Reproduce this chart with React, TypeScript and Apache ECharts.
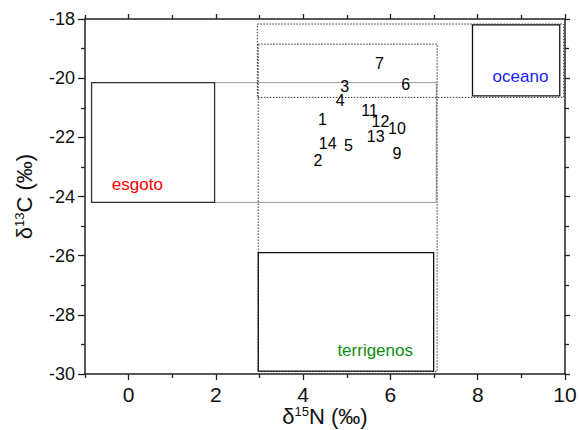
import React, { useEffect, useRef } from "react";
import * as echarts from "echarts";

const FONT = "'Liberation Sans', Arial, Helvetica, sans-serif";

// Sample labels (δ15N, δ13C)
const sampleNames = ["1", "2", "3", "4", "5", "6", "7", "9", "10", "11", "12", "13", "14"];
const sampleN = [4.44, 4.34, 4.95, 4.85, 5.04, 6.35, 5.75, 6.15, 6.15, 5.52, 5.77, 5.66, 4.56];
const sampleC = [-21.39, -22.79, -20.29, -20.77, -22.29, -20.2, -19.5, -22.56, -21.7, -21.08, -21.47, -21.98, -22.2];

// Source boxes: [x1, y1, x2, y2]
const boxNames = ["band", "esgoto", "outerDotted", "innerDotted", "terrigenos", "oceano"];
const boxX1 = [-0.85, -0.85, 2.95, 2.97, 2.97, 7.88];
const boxY1 = [-20.15, -20.15, -18.17, -18.85, -25.9, -18.2];
const boxX2 = [7.05, 1.97, 9.97, 7.07, 6.99, 9.88];
const boxY2 = [-24.2, -24.2, -20.65, -29.92, -29.9, -20.6];

// Region labels
const regionNames = ["esgoto", "terrigenos", "oceano"];
const regionX = [0.2, 5.65, 8.98];
const regionY = [-23.6, -29.2, -19.95];
const regionColors = ["#ff0000", "#108a10", "#1a1aff"];

// Axis ticks
const xMajor = [0, 2, 4, 6, 8, 10];
const xMinor = [-1, 1, 3, 5, 7, 9];

const boxStyles: Record<string, any> = {
  band: { stroke: "#9a9a9a", lineWidth: 1 },
  esgoto: { stroke: "#333", lineWidth: 1.3 },
  outerDotted: { stroke: "#333", lineWidth: 1, lineDash: [1.5, 1.5] },
  innerDotted: { stroke: "#333", lineWidth: 1, lineDash: [1.5, 1.5] },
  terrigenos: { stroke: "#111", lineWidth: 1.3 },
  oceano: { stroke: "#111", lineWidth: 1.3 },
};

export default function App() {
  const ref = useRef<HTMLDivElement>(null);
  useEffect(() => {
    if (!ref.current) return;
    const chart = echarts.init(ref.current, undefined, { renderer: "svg" });
    const axisLine = { show: true, onZero: false, lineStyle: { color: "#222", width: 1.5 } };
    const noLine = { show: false, onZero: false };
    const tickStyle = { color: "#222", width: 1.3 };
    const xBase = { type: "value", min: -1, max: 10, splitLine: { show: false } };
    const yBase = { type: "value", min: -30, max: -18, interval: 2, splitLine: { show: false } };
    const richTitle = {
      n: { fontSize: 22, fontFamily: FONT, color: "#111" },
      s: { fontSize: 13, fontFamily: FONT, color: "#111", verticalAlign: "top" },
    };
    const noBorder = { textBorderWidth: 0, textBorderColor: "transparent", textShadowBlur: 0 };
    chart.setOption({
      animation: false,
      grid: { left: 85, top: 19, right: 14, bottom: 56, outerBoundsMode: "none", containLabel: false },
      xAxis: [
        {
          ...xBase,
          position: "bottom",
          axisLine,
          axisTick: { show: true, inside: false, length: 6, customValues: xMajor, lineStyle: tickStyle },
          axisLabel: { show: true, customValues: xMajor, fontSize: 21, fontFamily: FONT, color: "#111", margin: 10 },
          name: "{n|δ}{s|15}{n|N (‰)}",
          nameLocation: "middle",
          nameGap: 31,
          nameMoveOverlap: false,
          nameTextStyle: { fontSize: 22, fontFamily: FONT, rich: richTitle },
        },
        {
          ...xBase,
          position: "bottom",
          axisLine: noLine,
          axisTick: { show: true, inside: false, length: 4, customValues: xMinor, lineStyle: tickStyle },
          axisLabel: { show: false },
        },
        {
          ...xBase,
          position: "top",
          axisLine,
          axisTick: { show: true, inside: false, length: 5, customValues: xMajor, lineStyle: tickStyle },
          axisLabel: { show: false },
        },
        {
          ...xBase,
          position: "top",
          axisLine: noLine,
          axisTick: { show: true, inside: false, length: 4, customValues: xMinor, lineStyle: tickStyle },
          axisLabel: { show: false },
        },
      ],
      yAxis: [
        {
          ...yBase,
          position: "left",
          axisLine,
          axisTick: { show: true, inside: false, length: 7, lineStyle: tickStyle },
          minorTick: { show: true, splitNumber: 2, length: 4, lineStyle: tickStyle },
          axisLabel: { fontSize: 18, fontFamily: FONT, color: "#111", margin: 10 },
          name: "{n|δ}{s|13}{n|C (‰)}",
          nameLocation: "middle",
          nameGap: 50,
          nameTextStyle: { fontSize: 22, fontFamily: FONT, rich: richTitle },
        },
        {
          ...yBase,
          position: "right",
          axisLine,
          axisTick: { show: true, inside: false, length: 5, lineStyle: tickStyle },
          minorTick: { show: true, splitNumber: 2, length: 4, lineStyle: tickStyle },
          axisLabel: { show: false },
        },
      ],
      series: [
        {
          type: "custom",
          xAxisIndex: 0,
          yAxisIndex: 0,
          silent: true,
          clip: false,
          encode: { x: [0, 2], y: [1, 3] },
          data: boxNames.map((n, i) => [boxX1[i], boxY1[i], boxX2[i], boxY2[i], i]),
          renderItem: (params: any, api: any) => {
            const i = api.value(4);
            const p1 = api.coord([api.value(0), api.value(1)]);
            const p2 = api.coord([api.value(2), api.value(3)]);
            const st = boxStyles[boxNames[i]];
            return {
              type: "rect",
              shape: {
                x: Math.min(p1[0], p2[0]),
                y: Math.min(p1[1], p2[1]),
                width: Math.abs(p2[0] - p1[0]),
                height: Math.abs(p2[1] - p1[1]),
              },
              style: { fill: "none", ...st },
            };
          },
        },
        {
          type: "scatter",
          xAxisIndex: 0,
          yAxisIndex: 0,
          silent: true,
          symbolSize: 1,
          itemStyle: { color: "rgba(0,0,0,0)", opacity: 1 },
          data: sampleNames.map((n, i) => ({ name: n, value: [sampleN[i], sampleC[i]] })),
          label: {
            show: true,
            position: "inside",
            formatter: "{b}",
            fontSize: 16,
            fontFamily: FONT,
            color: "#000",
            ...noBorder,
          },
          labelLayout: { hideOverlap: false },
          emphasis: { disabled: true },
        },
        {
          type: "scatter",
          xAxisIndex: 0,
          yAxisIndex: 0,
          silent: true,
          symbolSize: 1,
          itemStyle: { color: "rgba(0,0,0,0)", opacity: 1 },
          data: regionNames.map((n, i) => ({
            name: n,
            value: [regionX[i], regionY[i]],
            label: { color: regionColors[i] },
          })),
          label: {
            show: true,
            position: "inside",
            formatter: "{b}",
            fontSize: 17,
            fontFamily: FONT,
            ...noBorder,
          },
          emphasis: { disabled: true },
        },
      ],
    });
    return () => chart.dispose();
  }, []);
  return (
    <div
      ref={ref}
      style={{ position: "absolute", left: 0, top: 0, width: 579, height: 430, background: "#fff" }}
    />
  );
}
